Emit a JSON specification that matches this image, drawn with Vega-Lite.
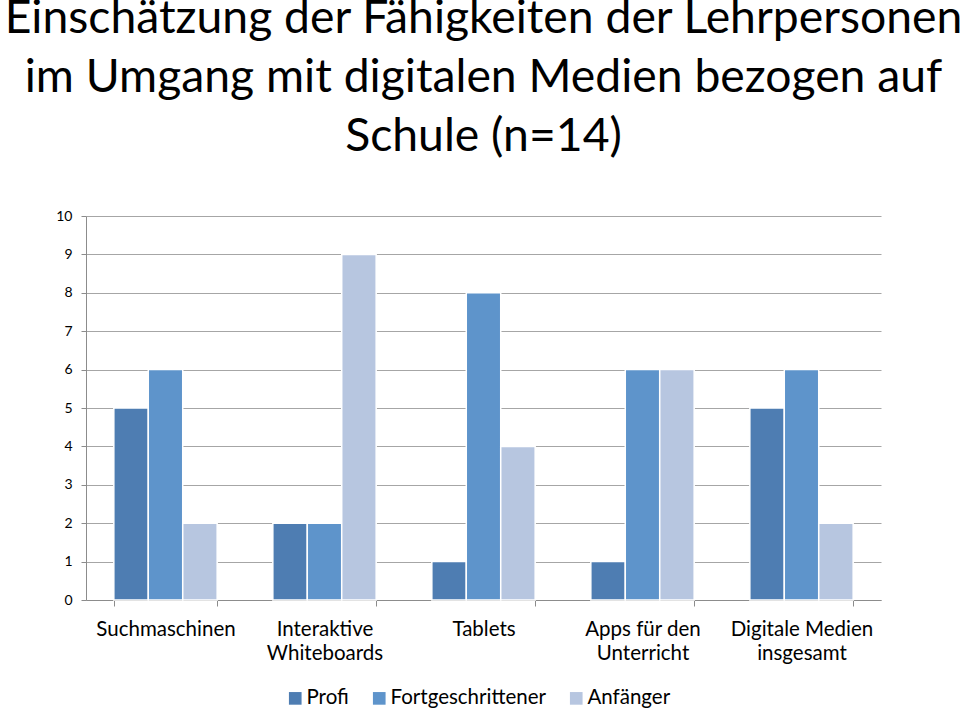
{
  "$schema": "https://vega.github.io/schema/vega-lite/v6.json",
  "width": 795,
  "height": 384,
  "autosize": {"type": "none"},
  "padding": {"left": 86, "top": 216, "right": 79, "bottom": 111},
  "background": "white",
  "title": {
    "text": ["Einschätzung der Fähigkeiten der Lehrpersonen", "im Umgang mit digitalen Medien bezogen auf", "Schule (n=14)"],
    "font": "Lato",
    "fontSize": 46.3,
    "fontWeight": "normal",
    "color": "black",
    "lineHeight": 59,
    "anchor": "middle",
    "baseline": "bottom",
    "offset": 2
  },
  "data": {
    "values": [
      {"Kategorie": "Suchmaschinen", "Gruppe": "Profi", "Wert": 5},
      {"Kategorie": "Suchmaschinen", "Gruppe": "Fortgeschrittener", "Wert": 6},
      {"Kategorie": "Suchmaschinen", "Gruppe": "Anfänger", "Wert": 2},
      {"Kategorie": "Interaktive Whiteboards", "Gruppe": "Profi", "Wert": 2},
      {"Kategorie": "Interaktive Whiteboards", "Gruppe": "Fortgeschrittener", "Wert": 2},
      {"Kategorie": "Interaktive Whiteboards", "Gruppe": "Anfänger", "Wert": 9},
      {"Kategorie": "Tablets", "Gruppe": "Profi", "Wert": 1},
      {"Kategorie": "Tablets", "Gruppe": "Fortgeschrittener", "Wert": 8},
      {"Kategorie": "Tablets", "Gruppe": "Anfänger", "Wert": 4},
      {"Kategorie": "Apps für den Unterricht", "Gruppe": "Profi", "Wert": 1},
      {"Kategorie": "Apps für den Unterricht", "Gruppe": "Fortgeschrittener", "Wert": 6},
      {"Kategorie": "Apps für den Unterricht", "Gruppe": "Anfänger", "Wert": 6},
      {"Kategorie": "Digitale Medien insgesamt", "Gruppe": "Profi", "Wert": 5},
      {"Kategorie": "Digitale Medien insgesamt", "Gruppe": "Fortgeschrittener", "Wert": 6},
      {"Kategorie": "Digitale Medien insgesamt", "Gruppe": "Anfänger", "Wert": 2}
    ]
  },
  "mark": {"type": "bar", "stroke": "white", "strokeWidth": 1.5},
  "encoding": {
    "x": {
      "field": "Kategorie",
      "type": "nominal",
      "sort": null,
      "scale": {"paddingInner": 0.35, "paddingOuter": 0.175},
      "axis": {
        "title": null,
        "labelAngle": 0,
        "labelFont": "Lato",
        "labelFontSize": 20.5,
        "labelColor": "black",
        "labelLineHeight": 24,
        "labelPadding": 13,
        "tickBand": "extent",
        "tickSize": 6,
        "tickColor": "#8c8c8c",
        "domainColor": "#8c8c8c",
        "labelExpr": "datum.label == 'Interaktive Whiteboards' ? ['Interaktive', 'Whiteboards'] : datum.label == 'Apps für den Unterricht' ? ['Apps für den', 'Unterricht'] : datum.label == 'Digitale Medien insgesamt' ? ['Digitale Medien', 'insgesamt'] : datum.label"
      }
    },
    "xOffset": {
      "field": "Gruppe",
      "type": "nominal",
      "sort": ["Profi", "Fortgeschrittener", "Anfänger"],
      "scale": {"paddingInner": 0, "paddingOuter": 0}
    },
    "y": {
      "field": "Wert",
      "type": "quantitative",
      "scale": {"domain": [0, 10], "nice": false},
      "axis": {
        "title": null,
        "values": [0, 1, 2, 3, 4, 5, 6, 7, 8, 9, 10],
        "labelFont": "Lato",
        "labelFontSize": 14,
        "labelColor": "black",
        "labelPadding": 9,
        "tickSize": 5,
        "tickColor": "#8c8c8c",
        "domainColor": "#8c8c8c",
        "gridColor": "#a6a6a6",
        "gridWidth": 1
      }
    },
    "color": {
      "field": "Gruppe",
      "type": "nominal",
      "sort": ["Profi", "Fortgeschrittener", "Anfänger"],
      "scale": {"domain": ["Profi", "Fortgeschrittener", "Anfänger"], "range": ["#4e7db2", "#5e94cb", "#b7c6e0"]},
      "legend": {
        "title": null,
        "orient": "none",
        "direction": "horizontal",
        "legendX": 199,
        "legendY": 472,
        "symbolType": "square",
        "symbolSize": 160,
        "symbolStrokeWidth": 0,
        "labelFont": "Lato",
        "labelFontSize": 20.5,
        "labelColor": "black",
        "labelOffset": 1,
        "columnPadding": 20
      }
    }
  },
  "config": {"view": {"stroke": null}}
}
